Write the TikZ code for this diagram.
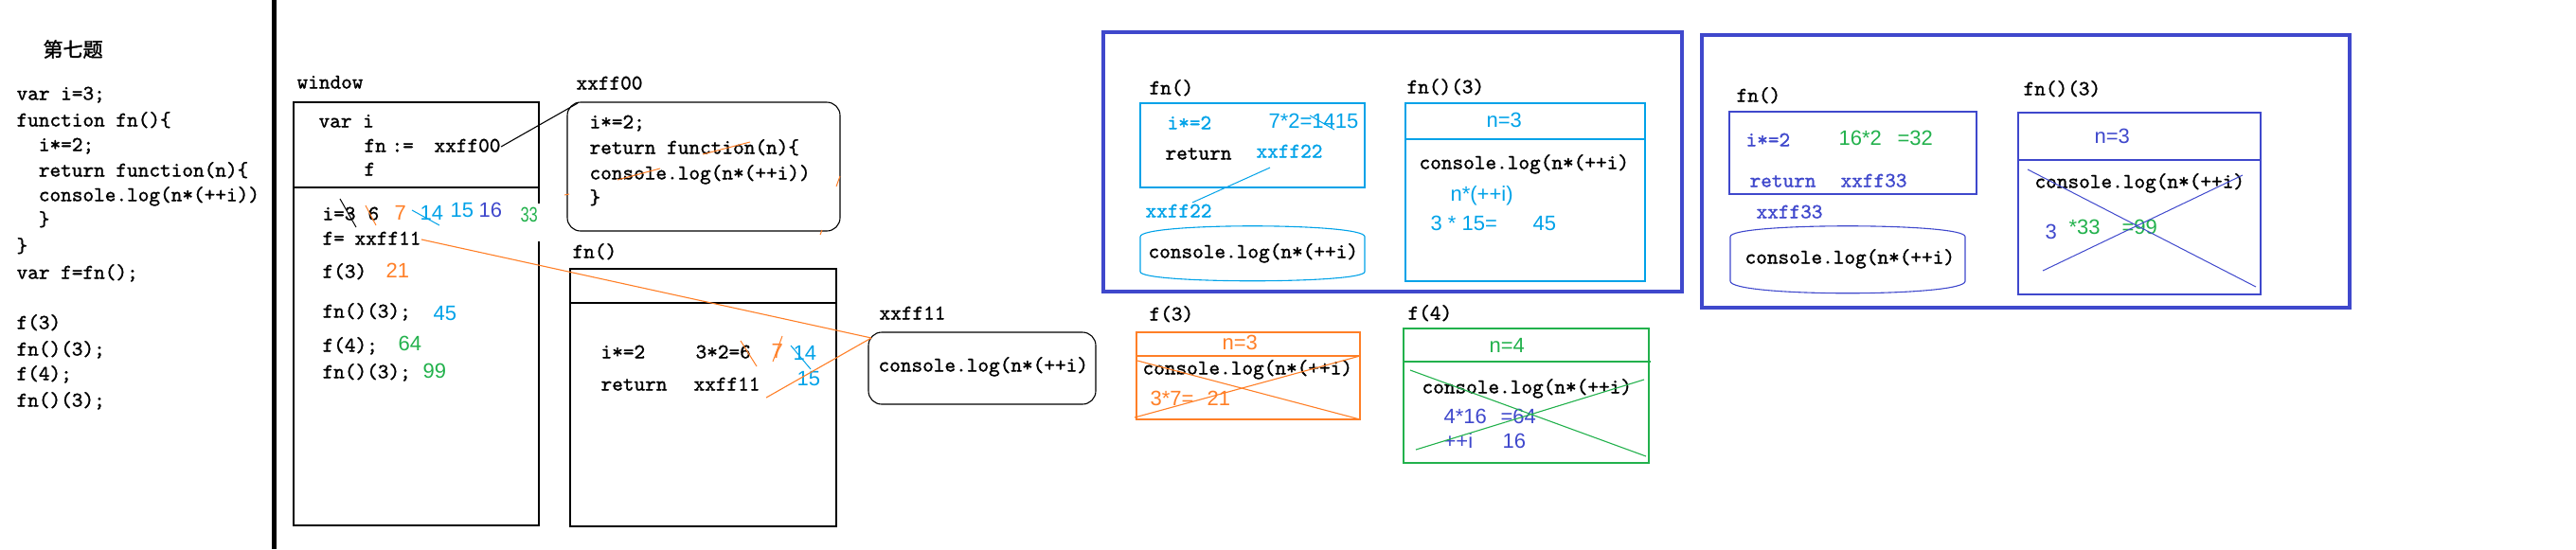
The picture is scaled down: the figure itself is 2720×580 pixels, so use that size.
\documentclass[tikz,border=0pt]{standalone}
\usepackage{fontspec}
\newfontfamily\cjkfont{Noto Sans CJK SC}[FakeBold=1.5]
\newfontfamily\sansnum{Liberation Sans}
\newfontfamily\codefam{lmmono10-regular.otf}[FakeBold=1.2]
\usetikzlibrary{positioning}
\definecolor{pblue}{RGB}{63,72,204}
\definecolor{pcyan}{RGB}{0,162,232}
\definecolor{porange}{RGB}{255,127,39}
\definecolor{pgreen}{RGB}{34,177,76}
\newcommand\codefont{\fontsize{11.1pt}{13pt}\codefam}
\newcommand\numfont{\fontsize{11pt}{12pt}\sansnum}
\newcommand\ind{\hphantom{xx}}
\begin{document}
\begin{tikzpicture}[x=0.5pt, y=-0.5pt, line width=0.55pt,
      lbl/.style={anchor=west, inner sep=0pt, text height=8.5pt, text depth=3pt, font=\codefont},
      num/.style={lbl, font=\numfont},
      region/.style 2 args={draw, anchor=north west, inner sep=0pt, outer sep=0pt,
        minimum width=#1*0.5pt, minimum height=#2*0.5pt},
      frame/.style={draw=pblue, line width=2pt},
      strike/.style={line width=0.5pt},
      ]
      \useasboundingbox (0,0) rectangle (2720,580);
      % source code
      \fill (287,0) rectangle (292,580);
      \node[anchor=west, inner sep=0pt, font=\fontsize{10.5pt}{12pt}\cjkfont] (title) at (45,52) {第七题};
      \foreach \y/\t [count=\k] in {100/{var i=3;}, 128/{function fn()\{}, 154/{\ind i*=2;},
          181/{\ind return function(n)\{}, 207/{\ind console.log(n*(++i))}, 233/{\ind \}},
          261/{\}}, 289/{var f=fn();}, 342/{f(3)}, 370/{fn()(3);}, 396/{f(4);}, 424/{fn()(3);}}
        \node[lbl] (code\k) at (17,\y) {\t};

      % window
      \node[lbl] (winlbl) at (313,88) {window};
      \node[region={259}{447}] (win) at (310,108) {};
      \draw (310,198) -- (569,198);
      \fill[white] (566,215) rectangle (572,255);
      \node[lbl] (wini) at (336,129) {var i};
      \node[lbl] (winfnname) at (384,155) {fn};
      \node[lbl] (winassign) at (413,155) {:=};
      \node[lbl] (winfn) at (458,155) {xxff00};
      \node[lbl] (winfname) at (384,180) {f};
      \node[lbl] (wini3) at (340,227) {i=3};
      \node[lbl] (wini6) at (388,227) {6};
      \node[num, porange] (wini7) at (416,227) {7};
      \node[num, pcyan] (wini14) at (443,227) {14};
      \node[num, pcyan] (wini15) at (475,224) {15};
      \node[num, pblue] (wini16) at (505,224) {16};
      \node[num, pgreen] (wini33) at (549,229) {\scalebox{.75}[1]{33}};
      \draw[strike] (359,210) -- (376,240);
      \draw[strike, porange] (386,217) -- (397,238);
      \draw[strike, pcyan] (435,222) -- (464,238);
      \node[lbl] (winfassign) at (340,253) {f=};
      \node[lbl] (winf) at (374,253) {xxff11};
      \node[lbl] (wincall1) at (340,288) {f(3)};
      \node[num, porange] (winres1) at (407,288) {21};
      \node[lbl] (wincall2) at (340,330) {fn()(3);};
      \node[num, pcyan] (winres2) at (457,333) {45};
      \node[lbl] (wincall3) at (340,366) {f(4);};
      \node[num, pgreen] (winres3) at (420,365) {64};
      \node[lbl] (wincall4) at (340,394) {fn()(3);};
      \node[num, pgreen] (winres4) at (446,394) {99};

      % heap xxff00
      \node[lbl] (f00lbl) at (608,89) {xxff00};
      \node[region={288}{136}, rounded corners=7pt] (f00box) at (599,108) {};
      \node[lbl] (f00a) at (622,130) {i*=2;};
      \node[lbl] (f00b) at (622,157) {return function(n)\{};
      \node[lbl] (f00c) at (622,184) {console.log(n*(++i))};
      \node[lbl] (f00d) at (622,210) {\}};
      \draw (winfn.east) -- ([shift={(11,1)}]f00box.north west);
      \draw[strike, porange] (742,163) -- (792,150);
      \draw[strike, porange] (652,190) -- (697,178);
      \draw[strike, porange] (883,197) -- (887,186);
      \draw[strike, porange] (866,248) -- (868,243);
      \draw[strike, porange] (596,206) -- (601,205);

      % fn()
      \node[lbl] (fnlbl) at (604,267) {fn()};
      \node[region={281}{272}] (fnbox) at (602,284) {};
      \draw (602,320) -- (883,320);
      \node[lbl] (fni) at (634,373) {i*=2};
      \node[lbl] (fncalc) at (734,373) {3*2=6};
      \node[num, porange] (fn7) at (814,373) {7};
      \node[num, pcyan] (fn14) at (837,375) {14};
      \node[num, pcyan] (fn15) at (841,402) {15};
      \draw[strike, porange] (782,360) -- (799,387);
      \draw[strike, porange] (826,355) -- (816,382);
      \draw[strike, pcyan] (835,365) -- (856,390);
      \node[lbl] (fnret) at (634,407) {return};
      \node[lbl] (fnretval) at (732,407) {xxff11};

      % heap xxff11
      \node[lbl] (f11lbl) at (928,332) {xxff11};
      \node[region={240}{76}, rounded corners=7pt] (f11box) at (917,351) {};
      \node[lbl] (f11code) at (927,387) {console.log(n*(++i)};
      \draw[porange] (winf.east) -- ([shift={(3,6)}]f11box.north west);
      \draw[porange] ([shift={(6,1)}]fnretval.south east) -- ([shift={(3,6)}]f11box.north west);

      % fn()(3), first call
      \node[region={611}{274}, frame] (callA) at (1165,34) {};
      \node[lbl] (fnAlbl) at (1213,94) {fn()};
      \node[region={237}{89}, draw=pcyan] (fnA) at (1204,109) {};
      \node[lbl, pcyan] (fnAi) at (1232,131) {i*=2};
      \node[num, pcyan] (fnAcalc) at (1339,130) {7*2=1415};
      \draw[strike, pcyan] (1383,122) -- (1409,137);
      \node[lbl] (fnAret) at (1230,163) {return};
      \node[lbl, pcyan] (fnAval) at (1326,161) {xxff22};
      \node[lbl, pcyan] (heapAlbl) at (1209,224) {xxff22};
      \draw[strike, pcyan] ([shift={(15,4)}]fnAval.south west) -- ([shift={(50,2)}]heapAlbl.north west);
      \draw[pcyan] (1204,250) .. controls (1204,235) and (1441,235) .. (1441,250) -- (1441,287)
        .. controls (1441,300) and (1204,300) .. (1204,287) -- cycle;
      \node[lbl] (heapAcode) at (1212,267) {console.log(n*(++i)};
      \node[lbl] (runAlbl) at (1485,93) {fn()(3)};
      \node[region={253}{188}, draw=pcyan] (runA) at (1484,109) {};
      \draw[pcyan] (1484,147) -- (1737,147);
      \node[num, pcyan] (runAn) at (1569,129) {n=3};
      \node[lbl] (runAcode) at (1498,173) {console.log(n*(++i)};
      \node[num, pcyan] (runAexpr) at (1531,207) {n*(++i)};
      \node[num, pcyan] (runAmul) at (1510,238) {3 * 15=};
      \node[num, pcyan] (runAres) at (1618,238) {45};

      % f(3) and f(4)
      \node[lbl] (f3lbl) at (1213,333) {f(3)};
      \node[region={236}{92}, draw=porange] (callf3) at (1200,351) {};
      \draw[porange] (1200,376) -- (1436,376);
      \node[num, porange] (f3n) at (1290,364) {n=3};
      \node[lbl] (f3code) at (1206,390) {console.log(n*(++i)};
      \node[num, porange] (f3mul) at (1214,423) {3*7=};
      \node[num, porange] (f3res) at (1274,423) {21};
      \draw[porange] (1201,381) -- (1436,443);
      \draw[porange] (1198,441) -- (1436,376);
      \node[lbl] (f4lbl) at (1486,332) {f(4)};
      \node[region={259}{142}, draw=pgreen] (callf4) at (1482,347) {};
      \draw[pgreen] (1482,382) -- (1743,382);
      \node[num, pgreen] (f4n) at (1572,367) {n=4};
      \node[lbl] (f4code) at (1501,410) {console.log(n*(++i)};
      \node[num, pblue] (f4mul) at (1524,442) {4*16};
      \node[num, pblue] (f4res) at (1584,442) {=64};
      \node[num, pblue] (f4inc) at (1524,468) {++i};
      \node[num, pblue] (f4i) at (1586,468) {16};
      \draw[pgreen] (1489,391) -- (1738,482);
      \draw[pgreen] (1495,475) -- (1736,401);

      % fn()(3), second call
      \node[region={684}{288}, frame] (callB) at (1797,37) {};
      \node[lbl] (fnBlbl) at (1833,102) {fn()};
      \node[region={261}{87}, draw=pblue] (fnB) at (1826,118) {};
      \node[lbl, pblue] (fnBi) at (1843,149) {i*=2};
      \node[num, pgreen] (fnBcalc) at (1941,148) {16*2};
      \node[num, pgreen] (fnBres) at (2003,148) {=32};
      \node[lbl, pblue] (fnBret) at (1847,192) {return};
      \node[lbl, pblue] (fnBval) at (1943,192) {xxff33};
      \node[lbl, pblue] (heapBlbl) at (1854,225) {xxff33};
      \draw[pblue] (1827,250) .. controls (1827,235) and (2075,235) .. (2075,250) -- (2075,297)
        .. controls (2075,314) and (1827,314) .. (1827,297) -- cycle;
      \node[lbl] (heapBcode) at (1842,273) {console.log(n*(++i)};
      \node[lbl] (runBlbl) at (2136,95) {fn()(3)};
      \node[region={256}{192}, draw=pblue] (runB) at (2131,119) {};
      \draw[pblue] (2131,169) -- (2387,169);
      \node[num, pblue] (runBn) at (2211,146) {n=3};
      \node[lbl] (runBcode) at (2148,193) {console.log(n*(++i)};
      \node[num, pblue] (runBi) at (2159,247) {3};
      \node[num, pgreen] (runBmul) at (2184,242) {*33};
      \node[num, pgreen] (runBres) at (2240,242) {=99};
      \draw[strike, pblue] (2141,179) -- (2382,303);
      \draw[strike, pblue] (2157,286) -- (2368,185);
    \end{tikzpicture}
\end{document}
